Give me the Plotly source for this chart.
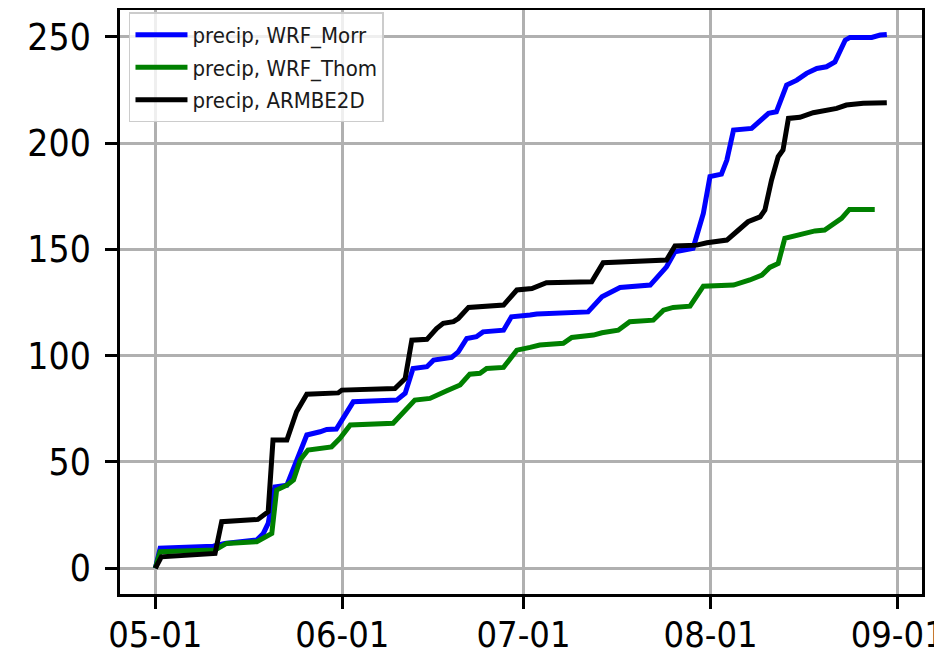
import pandas as pd
import plotly.graph_objects as go

# ---- data (day offsets from 05-01, cumulative precipitation) ----
start_date = "2011-05-01"

morr_days = [0, 0.8, 9.6, 11.5, 16.8, 17.9, 18.7, 19.8, 21.8, 23.4, 25.1, 27.3, 28.4, 30.0, 32.8,
             40.0, 41.4, 42.7, 45.0, 46.1, 49.1, 50.2, 51.6, 53.2, 54.3, 57.7, 59.0, 62.1, 63.2,
             71.7, 74.0, 77.0, 82.0, 84.7, 86.1, 89.1, 90.8, 91.9, 93.8, 94.7, 95.8, 98.8, 100.2,
             101.6, 102.9, 104.6, 106.3, 107.9, 109.6, 111.2, 112.6, 114.3, 115.1, 118.7, 120.1, 121.2]
morr_vals = [0, 9.4, 10.4, 11.7, 13.3, 16.4, 21.1, 38.3, 39.1, 50.9, 62.7, 64.2, 65.3, 65.5, 78.3,
             79.1, 82.3, 94.0, 94.8, 97.9, 99.2, 101.8, 108.1, 108.9, 111.2, 112.0, 118.3, 119.1, 119.6,
             120.6, 127.7, 132.1, 133.2, 141.8, 148.9, 150.5, 166.9, 184.2, 185.4, 192.0, 206.1, 206.9, 210.8,
             214.0, 214.7, 227.3, 229.6, 232.8, 235.1, 235.9, 238.2, 248.4, 249.7, 249.7, 250.8, 251.1]

thom_days = [0, 0.8, 9.9, 11.8, 16.8, 18.5, 19.3, 20.1, 21.8, 22.9, 24.0, 25.3, 27.3, 29.2, 30.6,
             32.3, 39.4, 43.0, 45.5, 46.9, 48.3, 50.5, 52.1, 53.8, 54.9, 57.7, 59.9, 62.1, 63.7,
             67.6, 69.0, 72.6, 74.0, 76.7, 78.6, 82.5, 84.2, 85.8, 88.6, 90.8, 95.8, 98.5, 100.5,
             101.8, 103.2, 104.3, 106.3, 109.3, 110.9, 112.3, 113.7, 115.0, 119.2]
thom_vals = [0, 7.8, 8.6, 11.7, 12.5, 15.6, 16.4, 36.8, 39.1, 41.5, 50.9, 55.6, 56.4, 57.1, 61.1,
             67.4, 68.2, 79.1, 79.9, 81.9, 83.5, 86.2, 91.3, 91.7, 94.0, 94.5, 102.6, 103.9, 105.0,
             105.8, 108.6, 109.7, 110.8, 112.0, 116.0, 116.7, 121.4, 122.7, 123.3, 132.7, 133.2, 135.6, 137.9,
             141.5, 143.4, 155.2, 156.7, 158.7, 159.1, 162.2, 164.6, 168.8, 168.8]

armbe_days = [0, 1.0, 9.9, 11.0, 17.0, 18.7, 19.5, 21.8, 23.4, 25.1, 30.3, 30.9, 39.7, 41.4, 42.5,
              45.0, 46.6, 47.7, 49.4, 50.2, 51.9, 57.7, 59.9, 62.4, 64.8, 72.3, 74.2, 84.7, 86.1,
              89.7, 91.4, 94.7, 96.3, 98.2, 100.2, 101.0, 102.1, 103.2, 104.0, 104.9, 106.8, 109.0,
              112.9, 114.5, 117.3, 121.2]
armbe_vals = [0, 5.4, 7.0, 21.9, 23.0, 26.6, 60.3, 60.3, 73.6, 81.9, 82.5, 83.8, 84.6, 89.3, 107.3,
              107.7, 112.8, 115.2, 116.0, 117.5, 122.7, 123.8, 130.9, 131.6, 134.3, 134.8, 143.7, 145.0, 151.6,
              152.0, 153.1, 154.4, 158.3, 163.0, 165.3, 168.5, 182.6, 193.6, 196.7, 211.6, 212.1, 214.3,
              216.3, 217.9, 218.7, 219.0]

series_names = ["precip, WRF_Morr", "precip, WRF_Thom", "precip, ARMBE2D"]
tick_dates = ["2011-05-01", "2011-06-01", "2011-07-01", "2011-08-01", "2011-09-01"]
tick_text = ["05-01", "06-01", "07-01", "08-01", "09-01"]
y_ticks = [0, 50, 100, 150, 200, 250]

t0 = pd.Timestamp(start_date)


def to_dates(days):
    return [t0 + pd.to_timedelta(d, unit="D") for d in days]


FONT = "DejaVu Sans Condensed, DejaVu Sans"

fig = go.Figure()
colors = ["#0000ff", "#008000", "#000000"]
for i, (name, d, v, c) in enumerate(zip(series_names,
                                        [morr_days, thom_days, armbe_days],
                                        [morr_vals, thom_vals, armbe_vals],
                                        colors)):
    fig.add_trace(go.Scatter(x=to_dates(d), y=v, mode="lines", name=name,
                             legendgroup=f"g{i}",
                             line=dict(color=c, width=5)))

x_lo = t0 - pd.Timedelta(days=5.85)
x_hi = pd.Timestamp("2011-09-01") + pd.Timedelta(days=4.03)

axis_common = dict(
    showline=True, mirror=True, linecolor="black", linewidth=2.5,
    showgrid=True, gridcolor="#b0b0b0", gridwidth=2.5,
    ticks="outside", ticklen=12, tickwidth=2.5, tickcolor="black",
    zeroline=False, automargin=False,
)

fig.update_layout(
    width=934, height=650,
    margin=dict(l=112, r=20, t=2, b=64),
    paper_bgcolor="white", plot_bgcolor="white",
    font=dict(family=FONT, color="black"),
    xaxis=dict(range=[x_lo, x_hi], tickvals=[pd.Timestamp(t) for t in tick_dates],
               ticktext=tick_text, ticklabeloverflow="allow",
               tickfont=dict(family=FONT, size=36, color="black"),
               ticklabelstandoff=-5,
               **axis_common),
    yaxis=dict(range=[-12.1, 262.6], tickvals=y_ticks,
               tickfont=dict(family=FONT, size=37, color="black"),
               ticklabelstandoff=7,
               **axis_common),
    legend=dict(x=0.0112, y=0.996, xanchor="left", yanchor="top",
                bgcolor="rgba(255,255,255,0.8)", bordercolor="#cccccc", borderwidth=1.5,
                font=dict(family=FONT, size=22, color="#1a1a1a"),
                itemwidth=52,
                tracegroupgap=1, traceorder="grouped"),
    showlegend=True,
)

fig.write_html("out.html")
